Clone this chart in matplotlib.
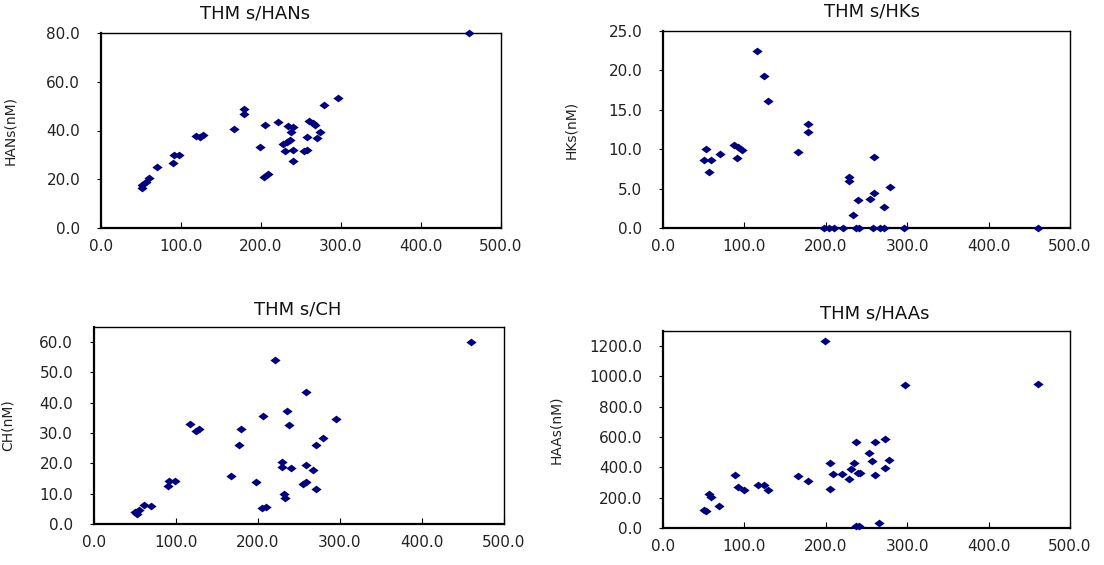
import numpy as np
import matplotlib
matplotlib.use("Agg")
import matplotlib.pyplot as plt

# THMs (nM) against each other DBP group (nM)
han_thms = [460, 296, 279, 179, 179, 166, 119, 124, 128, 97.6, 91, 90, 70, 60,
            56, 51.5, 51.5, 199, 205, 204, 209, 221, 234, 240, 238, 236, 232,
            227, 229.5, 240.5, 240.5, 253.7, 258, 257, 259.5, 264.7, 267,
            270.5, 273.5]
hans = [80, 53.2, 50.6, 48.7, 46.9, 40.8, 37.7, 37.3, 38.3, 29.9, 29.9, 26.6,
        25.2, 20.4, 19.0, 17.7, 16.3, 33.1, 42.3, 21.1, 22.2, 43.4, 42.0, 41.4,
        39.4, 36.3, 35.2, 34.5, 31.4, 32.1, 27.6, 31.4, 31.9, 37.4, 44.1, 43.2,
        42.2, 37.0, 39.4]

hk_thms = [116, 124.3, 128.7, 178.2, 178.2, 166, 53.4, 49.9, 59.1, 56.9, 69.6,
           87.1, 91.9, 97.2, 90.6, 258.8, 228.5, 228.5, 278.9, 258.8, 254.4,
           239.5, 271, 233.8, 197.9, 204.5, 209.7, 221, 237.3, 240.4, 257.9,
           267, 271.5, 296.4, 460.6]
hks = [22.46, 19.24, 16.06, 13.2, 12.2, 9.6, 10.0, 8.64, 8.64, 7.08, 9.36,
       10.47, 10.25, 9.92, 8.9, 9.07, 6.48, 5.93, 5.21, 4.49, 3.69, 3.6, 2.63,
       1.69, 0, 0, 0, 0, 0, 0, 0, 0, 0, 0, 0]

ch_thms = [460, 221, 258, 235, 237.5, 206, 295.6, 117, 124.8, 127.8, 179.4,
           177.3, 279.7, 270.7, 229.3, 229, 240, 258, 266.8, 166.5, 198, 258,
           254.7, 270.7, 232, 233, 205, 209.5, 90.4, 92, 99, 69.7, 61, 54.6,
           50.3, 52.5]
ch = [60, 54.2, 43.4, 37.2, 32.7, 35.6, 34.7, 33.1, 30.8, 31.2, 31.4, 26.1,
      28.5, 26.1, 20.6, 18.9, 18.6, 19.6, 17.8, 15.8, 14.0, 13.8, 13.1, 11.6,
      10.0, 8.7, 5.3, 5.7, 12.4, 14.3, 14.3, 6.0, 6.4, 4.7, 3.8, 3.4]

haa_thms = [199.6, 297.8, 460.7, 237, 260, 273, 253, 257, 278, 273, 261, 205,
            234.5, 231, 239, 242, 209, 220.5, 228, 205, 177.7, 166, 124, 116.6,
            128.4, 88.6, 92.6, 99, 56.8, 59, 68.6, 49.8, 52.4, 237, 241, 265]
haas = [1233, 943, 952, 570, 570, 586, 496, 439, 448, 397, 347, 430, 430, 388,
        366, 360, 355, 355, 322, 257, 311, 342, 285, 283, 248, 347, 272, 248,
        226, 206, 147, 121, 114, 15, 15, 35]

TITLES = ["THM s/HANs", "THM s/HKs", "THM s/CH", "THM s/HAAs"]
YLABELS = ["HANs(nM)", "HKs(nM)", "CH(nM)", "HAAs(nM)"]
YLIMS = [(0, 80), (0, 25), (0, 65), (0, 1300)]
YSTEPS = [20, 5, 10, 200]

# axes boxes in figure pixels: left, top, right, bottom
BOXES = [(101, 33, 501, 228), (663, 31, 1070, 228),
         (94, 327, 504, 524), (663, 331, 1070, 528)]
YLABEL_X = [17, 578, 15, 563]
TITLE_XY = [(255, 14), (872, 12), (298, 310), (875, 313)]

NAVY = "#000080"
TEXT = "#222222"
DIAMOND = [(-1, 0), (0, 0.76), (1, 0), (0, -0.76), (-1, 0)]

W, H = 1104, 565
plt.rcParams["font.family"] = ["DejaVu Sans"]
fig = plt.figure(figsize=(W / 100, H / 100), dpi=100)

series = [(han_thms, hans), (hk_thms, hks), (ch_thms, ch), (haa_thms, haas)]

for i, (xs, ys) in enumerate(series):
    l, t, r, b = BOXES[i]
    ax = fig.add_axes([l / W, (H - b) / H, (r - l) / W, (b - t) / H])
    ax.scatter(xs, ys, marker=DIAMOND, s=54, color=NAVY, linewidths=0,
               zorder=3, clip_on=False)
    ax.set_xlim(0, 500)
    ax.set_ylim(*YLIMS[i])
    ax.set_xticks(np.arange(0, 501, 100))
    ax.set_yticks(np.arange(0, YLIMS[i][1] + 1, YSTEPS[i]))
    ax.xaxis.set_major_formatter(matplotlib.ticker.FormatStrFormatter("%.1f"))
    ax.yaxis.set_major_formatter(matplotlib.ticker.FormatStrFormatter("%.1f"))
    ax.tick_params(axis="x", direction="in", length=4, width=0.8,
                   labelsize=11, pad=8, labelcolor=TEXT)
    ax.tick_params(axis="y", direction="out", length=3, width=0.8,
                   labelsize=11, pad=12, labelcolor=TEXT)
    for side in ("left", "bottom"):
        ax.spines[side].set_linewidth(1.6)
    for side in ("top", "right"):
        ax.spines[side].set_linewidth(1.0)
    ax.set_ylabel(YLABELS[i], fontsize=10, color=TEXT)
    ax.yaxis.set_label_coords((YLABEL_X[i] - l) / (r - l), 0.5)
    tx, ty = TITLE_XY[i]
    fig.text(tx / W, 1 - ty / H, TITLES[i], ha="center", va="center",
             fontsize=13, color="#111111")

fig.savefig("out.png", dpi=100)
